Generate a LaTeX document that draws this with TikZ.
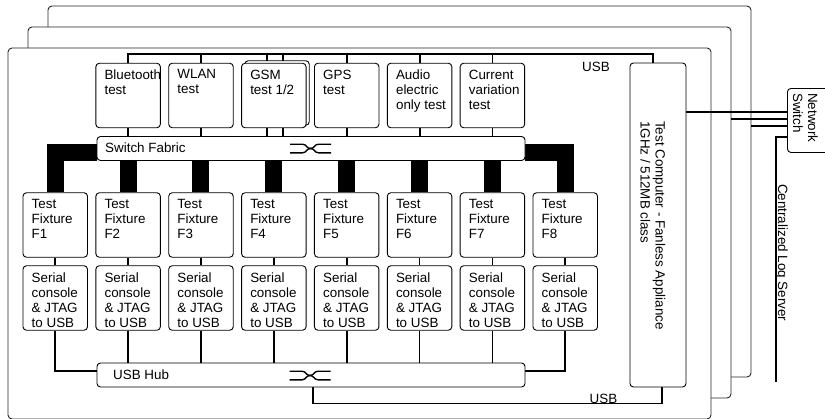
\documentclass[tikz,border=0pt]{standalone}
\usepackage{fontspec}
\setmainfont{Liberation Sans}
\pgfdeclarelayer{frames}
\pgfdeclarelayer{bg}
\pgfsetlayers{frames,bg,main}
\tikzset{
  box/.style={draw=black, line width=0.9pt, rounded corners=3.5pt, fill=white, inner sep=0pt, minimum width=64.5pt, minimum height=64.5pt},
  txt/.style={inner sep=0pt, align=left, anchor=north west, font=\fontsize{13.4}{15}\selectfont},
  lbl/.style={inner sep=0pt, font=\fontsize{13.4}{15}\selectfont},
  conn/.style={line width=1.8pt},
  bar/.style={line width=17pt, line join=miter},
  framebox/.style={draw=black!85, line width=0.9pt, rounded corners=4pt, fill=white, minimum width=703pt, minimum height=371pt, inner sep=0pt},
  xover/.pic={
    \draw[line width=1.4pt] (-20.5,-4.3) -- (-8,-4.3) .. controls (-4,-4.3) and (-4,0) .. (0,0) .. controls (4,0) and (4,-4.3) .. (8,-4.3) -- (20.5,-4.3);
    \draw[line width=1.4pt] (-20.5,4.3) -- (-8,4.3) .. controls (-4,4.3) and (-4,0) .. (0,0) .. controls (4,0) and (4,4.3) .. (8,4.3) -- (20.5,4.3);
  }
}
\begin{document}
\begin{tikzpicture}[x=1pt,y=-1pt]
\useasboundingbox (0,0) rectangle (825,418);

% frames
\begin{pgfonlayer}{frames}
\node[framebox] (fr3) at (399.5,191.5) {};
\node[framebox] (fr2) at (379.5,212.5) {};
\node[framebox] (fr1) at (359.5,233.5) {};
\end{pgfonlayer}

\coordinate (busy) at (0,54);
\coordinate (n1) at (0,112);
\coordinate (n2) at (0,119);
\coordinate (n3) at (0,126);
\coordinate (n4) at (0,137);
\coordinate (logend) at (776,382);

% fixtures and serial boxes
\foreach \i in {1,...,8} {
  \pgfmathsetmacro\cx{55.25+(\i-1)*72.86}
  \pgfmathsetmacro\lx{\cx-32.25+8.5}
  \node[box] (f\i) at (\cx,225) {};
  \node[txt] (ft\i) at (\lx,199.5) {Test\\Fixture\\F\i};
  \node[box] (s\i) at (\cx,298) {};
  \node[txt] (st\i) at (\lx,272.3) {Serial\\console\\\& JTAG\\to USB};
}

% top test boxes
\node[box] (t2) at (128.1,95.5) {};
\node[txt] (tt2) at (104.35,69.5) {Bluetooth\\test};
\node[box] (t3) at (201,95.5) {};
\node[txt] (tt3) at (177.25,69.5) {WLAN\\test};
\node[box] (gsmb) at (277,93) {};
\node[box] (gsm) at (273.8,95.5) {};
\node[txt] (tt4) at (250.05,69.5) {GSM\\test 1/2};
\node[box] (t5) at (346.7,95.5) {};
\node[txt] (tt5) at (322.95,69.5) {GPS\\test};
\node[box] (t6) at (419.6,95.5) {};
\node[txt] (tt6) at (395.85,69.5) {Audio\\electric\\only test};
\node[box] (t7) at (492.4,95.5) {};
\node[txt] (tt7) at (468.65,69.5) {Current\\variation\\test};

% switch fabric and hub
\node[box, minimum width=428pt, minimum height=24pt] (sf) at (311,148.5) {};
\node[lbl, anchor=west] (sfl) at (105,148) {Switch Fabric};
\pic at (310.5,148.5) {xover};
\node[box, minimum width=428pt, minimum height=24pt] (hub) at (311,375) {};
\node[lbl, anchor=west] (hubl) at (113,375) {USB Hub};
\pic at (310,375.5) {xover};

% test computer
\node[box, minimum width=56pt, minimum height=324pt] (tc) at (658,225) {};
\node[txt, rotate=-90] (tct) at (665.5,121) {Test Computer - Fanless Appliance\\1GHz / 512MB class};
\node[lbl] (usb1) at (596,66.5) {USB};
\node[lbl, anchor=base] (usb2) at (603.5,403.5) {USB};

% network switch
\node[box, minimum width=50pt, minimum height=64pt, anchor=north west] (ns) at (787,88) {};
\node[txt, rotate=-90] (nst) at (818,93) {Network\\Switch};
\node[txt, rotate=-90] (logt) at (788,184) {Centralized Log Server};

\begin{pgfonlayer}{bg}
% top bus
\draw[conn] (t2.north) -- (t2.north |- busy) -| ([xshift=-5pt]tc.north);
\foreach \n in {t3,t5,t6,t7} {
  \draw[conn] (\n.north) -- (\n.north |- busy);
  \draw[conn] (\n.south) -- (\n.south |- sf.north);
}
\draw[conn] (t2.south) -- (t2.south |- sf.north);
\draw[conn] ([xshift=-6.8pt]gsm.north) -- ([xshift=-6.8pt]gsm.north |- busy);
\draw[conn] ([xshift=9.2pt]gsm.north) -- ([xshift=9.2pt]gsm.north |- busy);
\draw[conn] ([xshift=-6.8pt]gsm.south) -- ([xshift=-6.8pt]gsm.south |- sf.north);
\draw[conn] ([xshift=9.2pt]gsm.south) -- ([xshift=9.2pt]gsm.south |- sf.north);

% thick bars
\draw[bar] ([yshift=-3.5pt]sf.west) -| (f1.north);
\draw[bar] ([yshift=-3.5pt]sf.east) -| (f8.north);
\foreach \i in {2,...,7} {
  \draw[bar] (f\i.north |- sf.south) -- (f\i.north);
}

% fixture - serial - hub
\foreach \i in {1,...,8} {
  \draw[conn] (f\i.south) -- (s\i.north);
}
\foreach \i in {2,...,7} {
  \draw[conn] (s\i.south) -- (s\i.south |- hub.north);
}
\draw[conn] (s1.south) |- ([yshift=4pt]hub.west);
\draw[conn] (s8.south) |- ([yshift=4pt]hub.east);
\draw[conn] ([xshift=2pt]hub.south) -- ++(0,16) -| ([xshift=4pt]tc.south);

% network
\draw[conn] (tc.east |- n1) -- (ns.west |- n1);
\draw[conn] (fr2.east |- n2) -- (ns.west |- n2);
\draw[conn] (fr3.east |- n3) -- (ns.west |- n3);
\draw[conn] (ns.west |- n4) -| (logend);
\end{pgfonlayer}
\end{tikzpicture}
\end{document}
